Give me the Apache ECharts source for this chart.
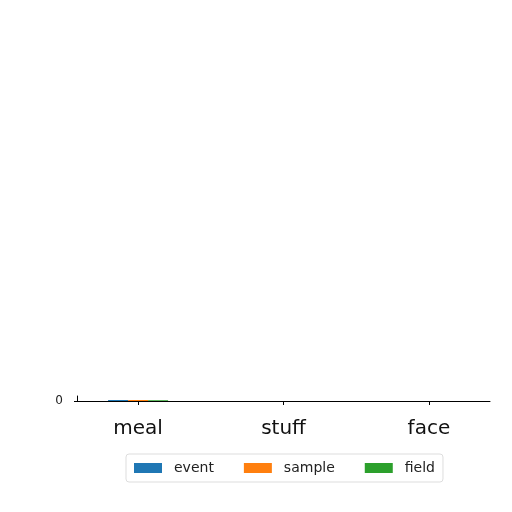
<!DOCTYPE html>
<html>
<head>
<meta charset="utf-8">
<script src="https://cdn.jsdelivr.net/npm/echarts@6/dist/echarts.min.js"></script>
<style>
	html, body { margin: 0; padding: 0; background: #fff; }
	#chart { width: 512px; height: 512px; }
</style>
</head>
<body>
<div id="chart"></div>
<script>
const categories = [ "meal", "stuff", "face" ];
const seriesNames = [ "event", "sample", "field" ];
const eventValues = [ 0.2, 0, 0 ];
const sampleValues = [ 0.2, 0, 0 ];
const fieldValues = [ 0.15, 0, 0 ];
const colors = [ "#1f77b4", "#ff7f0e", "#2ca02c" ];

const font = "DejaVu Sans, sans-serif";
const allValues = [ eventValues, sampleValues, fieldValues ];

const chart = echarts.init( document.getElementById( "chart" ) );
chart.setOption( {
	animation: false,
	color: colors,
	textStyle: { fontFamily: font },
	grid: { left: 77, right: 22, top: 396, bottom: 111 },
	xAxis: {
		type: "value",
		min: -0.42,
		max: 2.42,
		splitLine: { show: false },
		axisLine: { show: true, onZero: false, lineStyle: { color: "#000", width: 1 } },
		axisTick: { show: true, customValues: [ 0, 1, 2 ], length: 4, lineStyle: { color: "#000" } },
		axisLabel: {
			customValues: [ 0, 1, 2 ],
			formatter: v => categories[ Math.round( v ) ],
			fontSize: 20,
			color: "#111",
			margin: 18
		}
	},
	yAxis: {
		type: "value",
		min: 0,
		max: 1,
		interval: 1,
		splitLine: { show: false },
		axisLine: { show: true, onZero: false, lineStyle: { color: "#000" } },
		axisTick: { show: true, length: 3, lineStyle: { color: "#000" } },
		axisLabel: { showMaxLabel: false, showMinLabel: true, hideOverlap: false, fontSize: 12, color: "#222", margin: 14 }
	},
	legend: {
		bottom: 30,
		left: 126,
		icon: "rect",
		itemWidth: 28,
		itemHeight: 10,
		itemGap: 30,
		padding: [ 7, 8 ],
		borderColor: "#ddd",
		borderWidth: 1,
		borderRadius: 3,
		textStyle: { fontSize: 14, color: "#222", fontFamily: font, padding: [ 0, 0, 0, 7 ] },
		data: seriesNames
	},
	series: seriesNames.map( ( name, i ) => ( {
		name,
		type: "bar",
		barWidth: 20,
		barGap: "0%",
		data: allValues[ i ].map( ( v, j ) => [ j, v ] )
	} ) )
} );
</script>
</body>
</html>
